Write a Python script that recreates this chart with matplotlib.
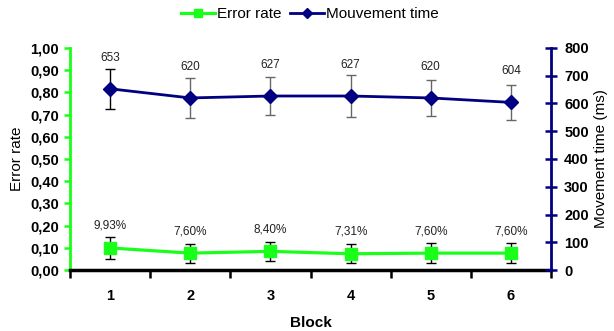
import numpy as np
import matplotlib
matplotlib.use("Agg")
import matplotlib.pyplot as plt
from matplotlib.ticker import FixedLocator, FuncFormatter

plt.rcParams['font.family'] = ['Liberation Sans', 'DejaVu Sans']

# ---------- data ----------
blocks = [1, 2, 3, 4, 5, 6]
error_rate = [0.0993, 0.0760, 0.0840, 0.0731, 0.0760, 0.0760]
error_rate_err = [0.051, 0.043, 0.044, 0.042, 0.044, 0.044]
error_labels = ["9,93%", "7,60%", "8,40%", "7,31%", "7,60%", "7,60%"]
move_time = [653, 620, 627, 627, 620, 604]
move_time_err = [72, 72, 68, 74, 64, 62]
move_labels = ["653", "620", "627", "627", "620", "604"]
er_ticks = [0.0, 0.1, 0.2, 0.3, 0.4, 0.5, 0.6, 0.7, 0.8, 0.9, 1.0]
mt_ticks = [0, 100, 200, 300, 400, 500, 600, 700, 800]

GREEN = '#1AFF1A'
NAVY = '#000080'
PX = 0.72  # points per pixel at dpi 100

fig = plt.figure(figsize=(6.14, 3.31), dpi=100)
ax1 = fig.add_axes([70/614, 1 - 270/331, 481/614, 222/331])
ax2 = ax1.twinx()

x = np.array(blocks)

# error rate (left axis)
ax1.errorbar(x, error_rate, yerr=error_rate_err, fmt='none', ecolor='black',
             elinewidth=1, capsize=3.5, capthick=1, zorder=2)
l1, = ax1.plot(x, error_rate, color=GREEN, lw=2.3, marker='s', ms=8,
               mec=GREEN, mfc=GREEN, zorder=3)
for xi, yi, lab in zip(x, error_rate, error_labels):
    ax1.annotate(lab, (xi, yi), xytext=(0, 22 * PX), textcoords='offset points',
                 ha='center', va='center', fontsize=8.5, color='#222222')

# movement time (right axis)
mt_ecol = ['black'] + ['#666666'] * 5
for xi, yi, ei, c in zip(x, move_time, move_time_err, mt_ecol):
    ax2.errorbar([xi], [yi], yerr=[ei], fmt='none', ecolor=c,
                 elinewidth=1, capsize=3.5, capthick=1, zorder=2)
l2, = ax2.plot(x, move_time, color=NAVY, lw=2, marker='D', ms=7,
               mec=NAVY, mfc=NAVY, zorder=3)
for xi, yi, lab in zip(x, move_time, move_labels):
    ax2.annotate(lab, (xi, yi), xytext=(0, 31 * PX), textcoords='offset points',
                 ha='center', va='center', fontsize=8.5, color='#222222')

# axes styling
ax1.set_xlim(0.5, 6.5)
ax1.set_ylim(0, 1)
ax2.set_ylim(0, 800)

ax1.set_xticks(blocks)
ax1.xaxis.set_minor_locator(FixedLocator(np.arange(0.5, 7, 1)))
ax1.tick_params(axis='x', which='major', length=0, pad=14, labelsize=10.5)
ax1.tick_params(axis='x', which='minor', length=6, width=1.8, color='black', direction='out')
for t in ax1.get_xticklabels():
    t.set_fontweight('bold')

ax1.set_yticks(er_ticks)
ax1.yaxis.set_major_formatter(FuncFormatter(lambda v, p: f"{v:.2f}".replace('.', ',')))
ax1.tick_params(axis='y', length=4, width=1.8, color=GREEN, direction='out', pad=4,
                labelsize=10.5)
for t in ax1.get_yticklabels():
    t.set_fontweight('bold')

ax2.set_yticks(mt_ticks)
ax2.tick_params(axis='y', length=9, width=1.8, color=NAVY, direction='inout', pad=5,
                labelsize=10.5)
for t in ax2.get_yticklabels():
    t.set_fontweight('bold')

for ax in (ax1, ax2):
    ax.spines['top'].set_visible(False)
ax1.spines['right'].set_visible(False)
ax2.spines['left'].set_visible(False)
ax2.spines['bottom'].set_visible(False)
ax1.spines['left'].set_color(GREEN)
ax1.spines['left'].set_linewidth(2)
ax1.spines['bottom'].set_color('black')
ax1.spines['bottom'].set_linewidth(2.5)
ax2.spines['right'].set_color(NAVY)
ax2.spines['right'].set_linewidth(2)
ax1.spines['bottom'].set_zorder(5)

ax1.set_ylabel("Error rate", fontsize=11, labelpad=4)
ax2.set_ylabel("Movement time (ms)", fontsize=11, labelpad=4)
ax1.set_xlabel("Block", fontsize=11, fontweight='bold', labelpad=9)

fig.legend([l1, l2], ["Error rate", "Mouvement time"], loc='center',
           bbox_to_anchor=(310/614, 1 - 14/331), ncol=2, frameon=False,
           fontsize=11, handlelength=2.2, handletextpad=0.15, columnspacing=0.6,
           markerscale=0.8)

fig.savefig("out.png", dpi=100)
